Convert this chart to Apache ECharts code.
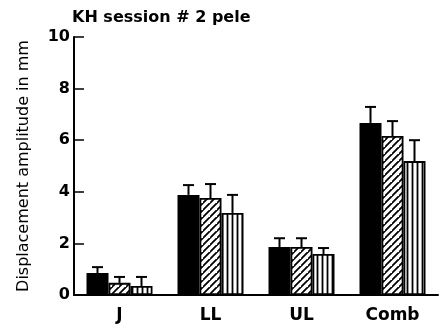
<!DOCTYPE html>
<html><head><meta charset="utf-8">
<script src="https://cdn.jsdelivr.net/npm/echarts@6/dist/echarts.min.js"></script>
<style>html,body{margin:0;padding:0;background:#fff}#c{width:443px;height:324px}</style>
</head><body><div id="c"></div>
<script>
const categories = ['J', 'LL', 'UL', 'Comb'];
const solidValues = [0.85, 3.88, 1.86, 6.67];
const solidErr = [1.08, 4.26, 2.2, 7.29];
const hatchValues = [0.47, 3.76, 1.86, 6.16];
const hatchErr = [0.7, 4.3, 2.2, 6.74];
const stripeValues = [0.35, 3.18, 1.59, 5.19];
const stripeErr = [0.7, 3.88, 1.82, 6.0];
const yTicks = [0, 2, 4, 6, 8, 10];

function pattern(type) {
  const c = document.createElement('canvas');
  const s = type === 'diag' ? 7 : 5;
  c.width = s; c.height = s;
  const g = c.getContext('2d');
  g.fillStyle = '#fff'; g.fillRect(0, 0, s, s);
  g.strokeStyle = '#000'; g.lineWidth = 1.8;
  g.beginPath();
  if (type === 'diag') {
    g.moveTo(-1, s + 1); g.lineTo(s + 1, -1);
    g.moveTo(-1 - s, s + 1); g.lineTo(1, -1);
    g.moveTo(s - 1, 2 * s + 1); g.lineTo(2 * s + 1, s - 1);
  } else {
    g.moveTo(2.5, 0); g.lineTo(2.5, s);
  }
  g.stroke();
  return c;
}

const barW = 22;
const groups = [
  {name: 'a', vals: solidValues, err: solidErr, color: '#000'},
  {name: 'b', vals: hatchValues, err: hatchErr, color: {image: pattern('diag'), repeat: 'repeat'}},
  {name: 'c', vals: stripeValues, err: stripeErr, color: {image: pattern('vert'), repeat: 'repeat'}}
];

const series = groups.map(gp => ({
  type: 'bar', name: gp.name, data: gp.vals, barWidth: barW, barGap: '0%',
  itemStyle: {color: gp.color, borderColor: '#000', borderWidth: 1.8},
  z: 2
}));

const errData = [];
groups.forEach((gp, si) => gp.vals.forEach((v, ci) => errData.push([ci, v, gp.err[ci], si])));

series.push({
  type: 'custom', data: errData, z: 3,
  renderItem: function (params, api) {
    const ci = api.value(0), v = api.value(1), e = api.value(2), si = api.value(3);
    const p0 = api.coord([ci, v]);
    const p1 = api.coord([ci, e]);
    const x = p0[0] + (si - 1) * barW;
    return {
      type: 'group', children: [
        {type: 'line', shape: {x1: x, y1: p0[1], x2: x, y2: p1[1]}, style: {stroke: '#000', lineWidth: 2}},
        {type: 'line', shape: {x1: x - 5.5, y1: p1[1], x2: x + 5.5, y2: p1[1]}, style: {stroke: '#000', lineWidth: 2}}
      ]
    };
  }
});

const chart = echarts.init(document.getElementById('c'));
chart.setOption({
  animation: false,
  title: {text: 'KH session # 2 pele', left: 67, top: 5,
    textStyle: {fontFamily: 'DejaVu Sans', fontSize: 16, fontWeight: 'bold', color: '#000'}},
  grid: {left: 74, right: 5, top: 37, bottom: 29},
  xAxis: {
    type: 'category', data: categories,
    axisLine: {lineStyle: {color: '#000', width: 2}},
    axisTick: {inside: true, length: 10, lineStyle: {color: '#000', width: 1.5}},
    axisLabel: {fontFamily: 'DejaVu Sans', fontSize: 17, fontWeight: 'bold', color: '#000', margin: 12}
  },
  yAxis: {
    type: 'value', min: 0, max: 10, interval: 2,
    name: 'Displacement amplitude in mm', nameLocation: 'middle', nameGap: 42,
    nameTextStyle: {fontFamily: 'DejaVu Sans', fontSize: 16, color: '#000'},
    splitLine: {show: false},
    axisLine: {show: true, lineStyle: {color: '#000', width: 2}},
    axisTick: {show: true, inside: true, length: 10, lineStyle: {color: '#000', width: 1.5}},
    axisLabel: {fontFamily: 'DejaVu Sans', fontSize: 16, fontWeight: 'bold', color: '#000', margin: 4,
      formatter: v => yTicks.indexOf(v) >= 0 ? String(v) : ''}
  },
  series: series
});
</script></body></html>
